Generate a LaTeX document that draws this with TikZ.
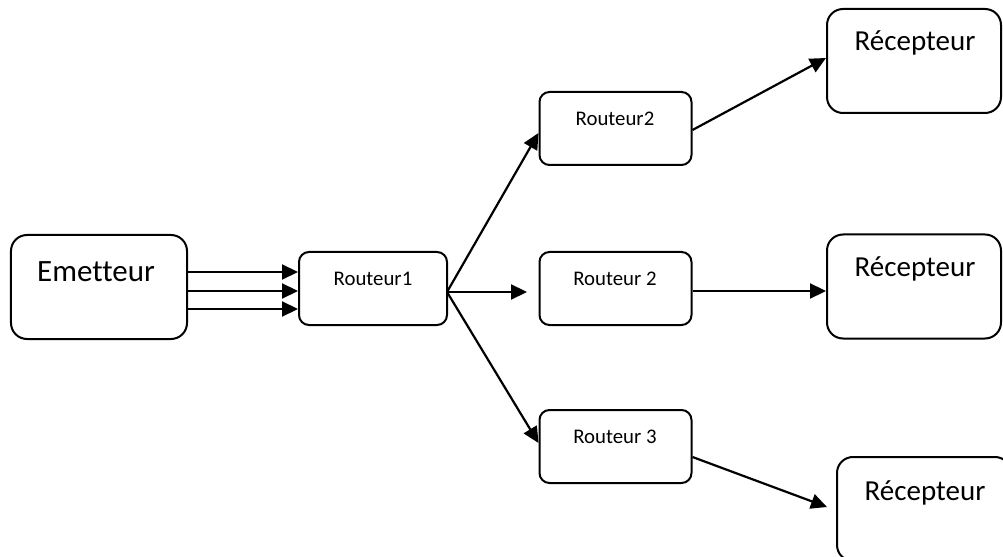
\documentclass[tikz,border=0pt]{standalone}
\usepackage{fontspec}
\setmainfont[Ligatures=NoCommon]{Carlito}
\usetikzlibrary{arrows.meta}
\begin{document}
\begin{tikzpicture}[x=1bp,y=-1bp,
  bigbox/.style={draw, line width=2bp, rounded corners=16bp, minimum width=174bp, minimum height=104bp, inner sep=0pt},
  rbox/.style={draw, line width=2bp, rounded corners=10bp, minimum width=152bp, minimum height=73bp, inner sep=0pt},
  bigtxt/.style={font=\fontsize{29bp}{34bp}\selectfont, inner sep=0pt},
  rtxt/.style={font=\fontsize{20.8bp}{24bp}\selectfont, inner sep=0pt},
  arr/.style={line width=2.2bp, -{Triangle[length=16bp,width=15bp]}}]
\useasboundingbox (0,0) rectangle (1003,557);

% sender
\node[bigbox, minimum width=176bp] (em) at (99,287) {};
\node[bigtxt, font=\fontsize{31bp}{36bp}\selectfont] at (96,272) {Emetteur};

% routers
\node[rbox, minimum width=148bp] (r1) at (373,288.5) {};
\node[rtxt] at (373,279) {Routeur1};
\node[rbox] (r2t) at (615.5,128.5) {};
\node[rtxt] at (615,119) {Routeur2};
\node[rbox] (r2m) at (615.5,288.5) {};
\node[rtxt] at (615,279) {Routeur 2};
\node[rbox] (r3) at (615.5,446.5) {};
\node[rtxt] at (615,437) {Routeur 3};

% receivers
\node[bigbox] (rc1) at (914,61) {};
\node[bigtxt] at (915,43) {Récepteur};
\node[bigbox] (rc2) at (914,286.5) {};
\node[bigtxt] at (915,269) {Récepteur};
\node[bigbox] (rc3) at (924,509) {};
\node[bigtxt] at (925,493) {Récepteur};

% sender to first router
\draw[arr] (em.east |- 0,272) -- (r1.west |- 0,272);
\draw[arr] (em.east |- 0,291) -- (r1.west |- 0,291);
\draw[arr] (em.east |- 0,309) -- (r1.west |- 0,309);

% first router to the three routers
\coordinate (r1o) at (447,292);
\coordinate (midtip) at (527,292);
\draw[arr] (r1o) -- (r2t.west |- 0,133);
\draw[arr] (r1o) -- (midtip);
\draw[arr] (r1o) -- (r3.west |- 0,443);

% routers to receivers
\coordinate (rc3tip) at (827,507);
\draw[arr] (r2t.east |- 0,130) -- (rc1.west |- 0,58);
\draw[arr] (r2m.east |- 0,291) -- (rc2.west |- 0,291);
\draw[arr] (r3.east |- 0,457) -- (rc3tip);
\end{tikzpicture}
\end{document}
